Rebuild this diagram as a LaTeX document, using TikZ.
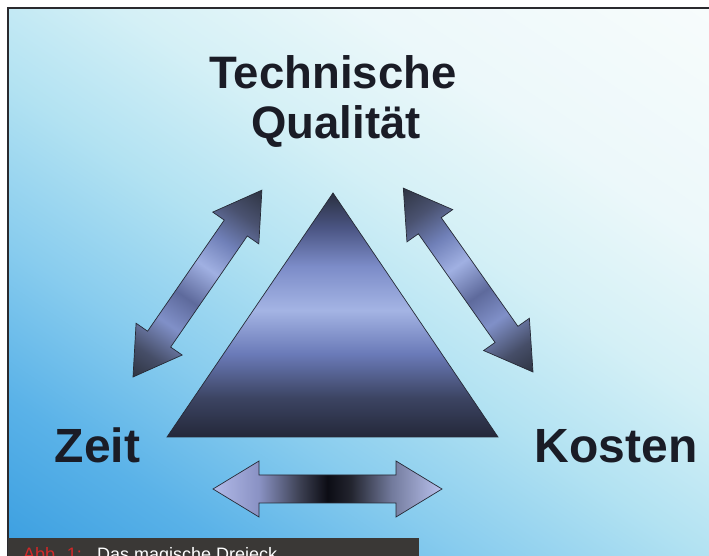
\documentclass[tikz,border=0pt]{standalone}
\usepackage{fontspec}
\setmainfont{Liberation Sans}
\usetikzlibrary{calc}
\definecolor{bgA}{HTML}{3A9EE0}
\definecolor{bgB}{HTML}{5AB2E8}
\definecolor{bgC}{HTML}{88CCEE}
\definecolor{bgD}{HTML}{B2E2F2}
\definecolor{bgE}{HTML}{D4F0F6}
\definecolor{bgF}{HTML}{ECF8FA}
\definecolor{bgG}{HTML}{F8FCFC}
\definecolor{frameC}{HTML}{2A2A2E}
\definecolor{bandC}{HTML}{3A3836}
\definecolor{capRed}{HTML}{D02828}
\definecolor{txtC}{HTML}{1A1C26}
\definecolor{edgeC}{HTML}{262A36}
% triangle colours
\definecolor{triD}{HTML}{24283A}
\definecolor{triC}{HTML}{3C4462}
\definecolor{triB}{HTML}{6A7AB8}
\definecolor{triL}{HTML}{A4B4E4}
\definecolor{triB2}{HTML}{7C8CC8}
\definecolor{triC2}{HTML}{4A5482}
\definecolor{triT}{HTML}{2A3040}
% arrow colours
\definecolor{arD}{HTML}{2E3442}
\definecolor{arC}{HTML}{464E68}
\definecolor{arB}{HTML}{8090C8}
\definecolor{arM}{HTML}{5E6A9C}
\definecolor{arL}{HTML}{A0B0E2}
\definecolor{arB2}{HTML}{7080B8}
\definecolor{arC2}{HTML}{4A5270}
% bottom arrow colours
\definecolor{hbL}{HTML}{B2BAE8}
\definecolor{hbB}{HTML}{8A92C4}
\definecolor{hbC}{HTML}{3C4052}
\definecolor{hbK}{HTML}{0C0C14}
\definecolor{hbC2}{HTML}{22242E}
\definecolor{hbB2}{HTML}{727A9C}
\definecolor{hbL2}{HTML}{BAC2EE}
\pgfdeclarehorizontalshading{bgshade}{100bp}{color(0bp)=(bgA); color(25bp)=(bgA); color(32.6bp)=(bgB); color(40bp)=(bgC); color(47.7bp)=(bgD); color(55bp)=(bgE); color(62.8bp)=(bgF); color(75bp)=(bgG); color(100bp)=(bgG)}
\pgfdeclareverticalshading{trishade}{100bp}{color(0bp)=(triD); color(25bp)=(triD); color(33bp)=(triC); color(42bp)=(triB); color(51bp)=(triL); color(60bp)=(triB2); color(68bp)=(triC2); color(75bp)=(triT); color(100bp)=(triT)}
\pgfdeclarehorizontalshading{arrshade}{100bp}{color(0bp)=(arD); color(25bp)=(arD); color(31bp)=(arC); color(39bp)=(arB); color(46bp)=(arM); color(54bp)=(arL); color(61bp)=(arB2); color(68bp)=(arC2); color(75bp)=(arD); color(100bp)=(arD)}
\pgfdeclarehorizontalshading{hbshade}{100bp}{color(0bp)=(hbL); color(25bp)=(hbL); color(35bp)=(hbB); color(44bp)=(hbC); color(50bp)=(hbK); color(55bp)=(hbC2); color(64bp)=(hbB2); color(75bp)=(hbL2); color(100bp)=(hbL2)}
\tikzset{
  frameline/.style={draw=frameC, line width=1.3pt},
  blockarrow/.style={draw=edgeC, line width=0.7pt, line join=miter},
  bigtop/.style={text=txtC, inner sep=0pt, anchor=base, font=\fontsize{45.5}{50}\selectfont\bfseries},
  bigside/.style={text=txtC, inner sep=0pt, anchor=base, font=\fontsize{48}{52}\selectfont\bfseries},
  captext/.style={inner sep=0pt, anchor=base west, font=\fontsize{18}{20}\selectfont},
}
\newcommand{\myblockarrow}[3]{% #1 tail tip, #2 angle, #3 shading
  \begin{scope}[transform canvas={shift={#1},rotate=#2}]
    \shade[shading=#3, blockarrow] (0,0) -- (46,28) -- (46,14) -- (\arrlen-46,14) -- (\arrlen-46,28) -- (\arrlen,0) -- (\arrlen-46,-28) -- (\arrlen-46,-14) -- (46,-14) -- (46,-28) -- cycle;
  \end{scope}}
\begin{document}
\begin{tikzpicture}[x=1pt,y=1pt]
\clip (0,0) rectangle (709,556);
\fill[white] (0,0) rectangle (709,556);
% background
\begin{scope}
  \clip (8,0) rectangle (709,548);
  \begin{scope}[transform canvas={shift={(8,0)},rotate=56}]
    \shade[shading=bgshade] (0,-620) rectangle (860,340);
  \end{scope}
\end{scope}
\draw[frameline] (8,0) -- (8,548) -- (710,548);
% caption band
\fill[bandC] (8,0) rectangle (419,18);
\node[captext, text=capRed] (abb) at (23,-5) {Abb. 1:};
\node[captext, text=white] (cap) at (97,-5) {Das magische Dreieck};
% triangle
\shade[shading=trishade, draw=edgeC, line width=0.7pt] (333,363) coordinate (apex) -- (167,119) coordinate (bl) -- (498,119) coordinate (br) -- cycle;
% arrows
\def\arrlen{227}
\myblockarrow{(133,179)}{55.4}{arrshade}
\def\arrlen{225}
\myblockarrow{(533,184)}{125.2}{arrshade}
\def\arrlen{229}
\myblockarrow{(213,67)}{0}{hbshade}
% labels
\node[bigtop] (tq1) at (333,467) {Technische};
\node[bigtop] (tq2) at (336,417) {Qualität};
\node[bigside] (zeit) at (97.5,93) {Zeit};
\node[bigside] (kosten) at (616,93) {Kosten};
\end{tikzpicture}
\end{document}
